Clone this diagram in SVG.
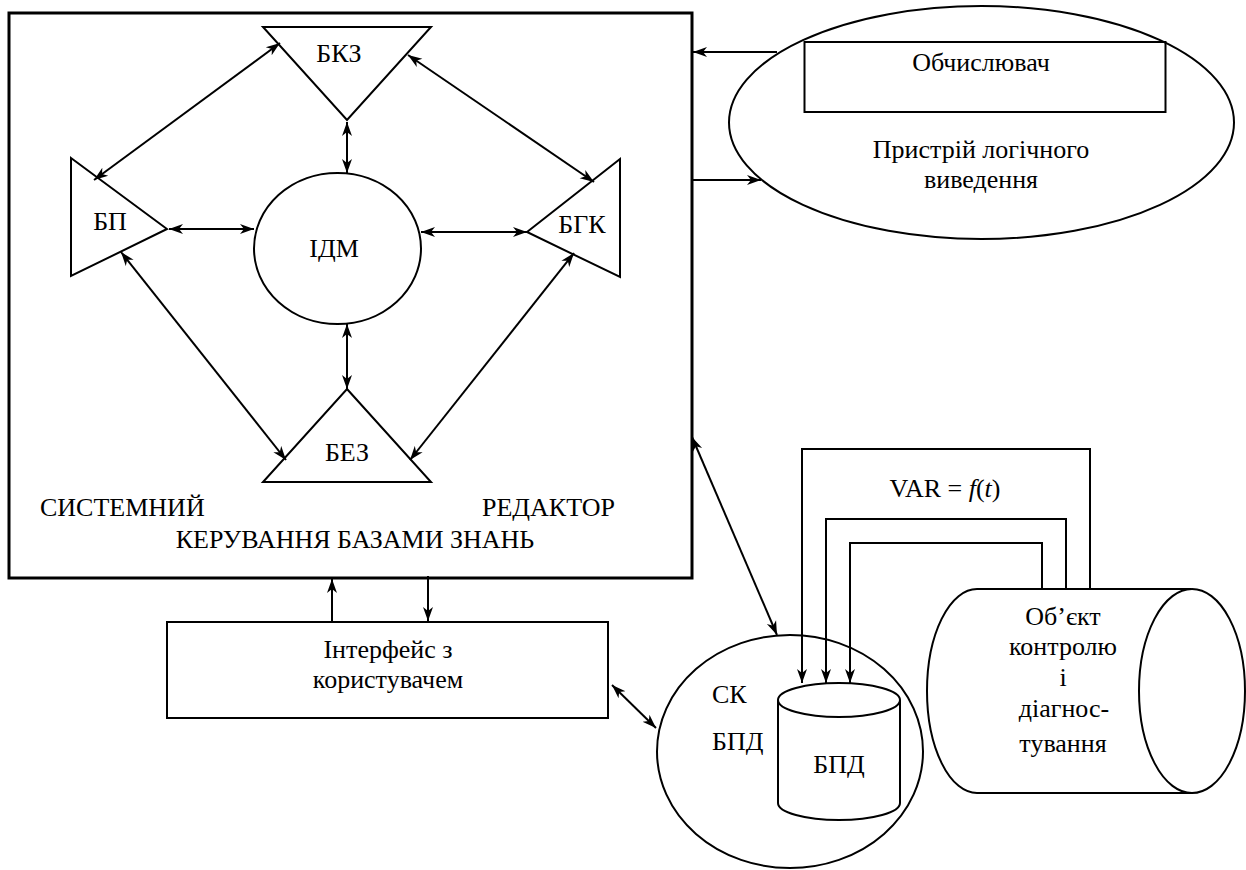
<svg xmlns="http://www.w3.org/2000/svg" width="1246" height="870" viewBox="0 0 1246 870">
<style>
.s{fill:none;stroke:#000;stroke-width:2}
.w{fill:#fff;stroke:#000;stroke-width:2}
text{font-family:'Liberation Serif','DejaVu Serif',serif;font-size:26px;fill:#000}
.m{text-anchor:middle}
.c line,.c path,.c polyline{fill:none;stroke:#000;stroke-width:2}
.a1{marker-end:url(#ah)}
.a2{marker-start:url(#ah);marker-end:url(#ah)}
</style>
<defs>
<marker id="ah" markerUnits="userSpaceOnUse" markerWidth="16" markerHeight="12" refX="14" refY="5" orient="auto-start-reverse" viewBox="0 0 16 10">
<path d="M0,0 L14,5 L0,10 L4,5 z" fill="#000"/>
</marker>
</defs>
<rect width="1246" height="870" fill="#fff"/>

<g id="main" font-family="Liberation Serif, serif">
<rect x="9" y="13" width="683" height="565" fill="none" stroke="#000" stroke-width="3"/>
<text x="40" y="516">СИСТЕМНИЙ</text>
<text x="482" y="516">РЕДАКТОР</text>
<text class="m" x="355" y="548">КЕРУВАННЯ БАЗАМИ ЗНАНЬ</text>
</g>
<g id="bkz">
<polygon class="s" points="263,27 431,27 347,120"/>
<text class="m" x="339" y="62">БКЗ</text>
</g>
<g id="bp">
<polygon class="s" points="71,158 167,229 71,276"/>
<text class="m" x="110" y="230">БП</text>
</g>
<g id="bgk">
<polygon class="s" points="620,159 527,232 620,277"/>
<text class="m" x="582" y="233">БГК</text>
</g>
<g id="idm">
<ellipse class="s" cx="337.5" cy="248.5" rx="83.5" ry="75.5"/>
<text class="m" x="334" y="257">ІДМ</text>
</g>
<g id="bez">
<polygon class="s" points="347,389 431,482 263,482"/>
<text class="m" x="347" y="461">БЕЗ</text>
</g>
<g id="pld">
<ellipse class="s" cx="981.5" cy="122.5" rx="252.5" ry="116.5"/>
<rect class="s" x="804.5" y="42" width="361" height="70"/>
<text class="m" x="981" y="71">Обчислювач</text>
<text class="m" x="981" y="158">Пристрій логічного</text>
<text class="m" x="981" y="188">виведення</text>
</g>
<g id="iface">
<rect class="s" x="167" y="622" width="441" height="96"/>
<text class="m" x="388" y="658">Інтерфейс з</text>
<text class="m" x="388" y="688">користувачем</text>
</g>
<g id="skbpd">
<ellipse class="s" cx="790" cy="751.5" rx="133" ry="116.5"/>
<text x="712" y="703">СК</text>
<text x="712" y="750">БПД</text>
</g>
<g id="bpd">
<path class="w" d="M778,700 L778,803 A61,17 0 0 0 900,803 L900,700"/>
<ellipse class="w" cx="839" cy="700" rx="61" ry="17"/>
<text class="m" x="839" y="773">БПД</text>
</g>
<g id="object">
<path class="s" d="M1191,589 L977,589 A50,102 0 0 0 977,793 L1191,793"/>
<ellipse class="s" cx="1192" cy="691" rx="53" ry="102"/>
<text class="m" x="1063" y="625">Об’єкт</text>
<text class="m" x="1063" y="655">контролю</text>
<text class="m" x="1063" y="686">і</text>
<text class="m" x="1064" y="717">діагнос-</text>
<text class="m" x="1063" y="752">тування</text>
</g>
<g id="var-label">
<text class="m" x="945" y="497">VAR = <tspan font-style="italic">f</tspan>(<tspan font-style="italic">t</tspan>)</text>
</g>

<g id="connectors" class="c">
<line class="a2" x1="280" y1="43" x2="94" y2="180"/>
<line class="a2" x1="408" y1="55" x2="594" y2="182"/>
<line class="a2" x1="347" y1="122" x2="347" y2="173"/>
<line class="a2" x1="169" y1="229" x2="254" y2="229"/>
<line class="a2" x1="421" y1="232" x2="527" y2="232"/>
<line class="a2" x1="121" y1="252" x2="286" y2="460"/>
<line class="a2" x1="574" y1="253" x2="410" y2="460"/>
<line class="a2" x1="347" y1="324" x2="347" y2="389"/>
<line class="a1" x1="777" y1="52" x2="693" y2="52"/>
<line class="a1" x1="693" y1="180" x2="761" y2="180"/>
<line class="a2" x1="692" y1="437" x2="777" y2="635"/>
<line class="a1" x1="332" y1="622" x2="332" y2="579"/>
<line class="a1" x1="428" y1="576" x2="428" y2="621"/>
<line class="a2" x1="612" y1="685" x2="656" y2="728"/>
<polyline class="a1" points="1090,589 1090,449 802,449 802,683"/>
<polyline class="a1" points="1066,589 1066,519 826,519 826,683"/>
<polyline class="a1" points="1042,589 1042,543 850,543 850,683"/>
</g>
</svg>
